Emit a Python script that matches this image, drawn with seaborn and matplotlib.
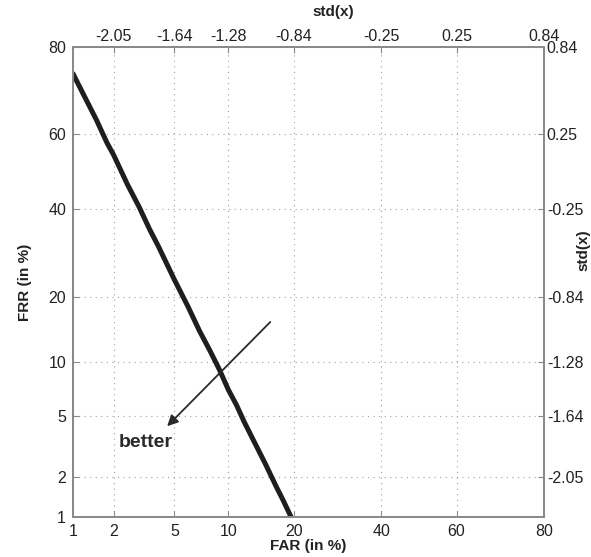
import numpy as np
import matplotlib
matplotlib.use("Agg")
import matplotlib.pyplot as plt
import seaborn as sns
from statistics import NormalDist

# ---- data ----
far = [1.0, 1.2, 1.5, 1.8, 2.0, 2.5, 3.0, 3.5, 4.0, 5.0, 6.0, 7.0, 8.0, 9.0, 10.0, 11.0, 12.0, 14.0, 15.0, 17.0, 18.0, 19.5]
frr = [74.6, 70.0, 63.8, 57.7, 54.6, 46.6, 40.6, 35.0, 30.7, 23.4, 18.3, 14.2, 11.4, 9.1, 7.1, 5.8, 4.6, 3.05, 2.5, 1.65, 1.36, 1.0]

pct_ticks = [1, 2, 5, 10, 20, 40, 60, 80]
std_ticks_pos = [2, 5, 10, 20, 40, 60, 80]
std_labels = ["-2.05", "-1.64", "-1.28", "-0.84", "-0.25", "0.25", "0.84"]

arrow_start = (16.2, 15.9)
arrow_end = (4.4, 4.2)
text_pos = (3.3, 3.4)

_nd = NormalDist()
_ppf = np.vectorize(lambda p: _nd.inv_cdf(min(max(p / 100.0, 1e-9), 1 - 1e-9)), otypes=[float])
_cdf = np.vectorize(lambda z: _nd.cdf(z) * 100.0, otypes=[float])

def fwd(v):
    return _ppf(np.asarray(v, dtype=float))

def inv(v):
    return _cdf(np.asarray(v, dtype=float))

sns.set_style("white")
plt.rcParams['font.family'] = ['Liberation Sans', 'DejaVu Sans']

TC = "#222222"
SC = "#8a8a8a"
FS = 11.5

fig = plt.figure(figsize=(5.91, 5.57), dpi=100)
ax = fig.add_axes([0.1235, 0.0718, 0.797, 0.8438])

sns.lineplot(x=far, y=frr, sort=False, estimator=None, color="#1e1e1e", lw=3.6, ax=ax)

for a_set in (ax,):
    a_set.set_xscale("function", functions=(fwd, inv))
    a_set.set_yscale("function", functions=(fwd, inv))
ax.set_xlim(1, 80)
ax.set_ylim(1, 80)
ax.set_xticks(pct_ticks)
ax.set_xticklabels([str(t) for t in pct_ticks])
ax.set_yticks(pct_ticks)
ax.set_yticklabels([str(t) for t in pct_ticks])
ax.minorticks_off()
ax.grid(True, linestyle=(0, (1, 4)), color="#a0a0a0", lw=0.8)
ax.tick_params(direction="in", length=4, color=SC, labelsize=FS, labelcolor=TC, pad=5)
for s in ax.spines.values():
    s.set_color(SC)
    s.set_linewidth(1.2)
ax.set_xlabel("FAR (in %)", fontweight="bold", fontsize=11, labelpad=0, color=TC)
ax.set_ylabel("FRR (in %)", fontweight="bold", fontsize=11, labelpad=12, color=TC)

# top axis
axt = ax.twiny()
axt.set_xscale("function", functions=(fwd, inv))
axt.set_xlim(1, 80)
axt.set_xticks(std_ticks_pos)
axt.set_xticklabels(std_labels)
axt.minorticks_off()
axt.tick_params(direction="in", length=4, color=SC, labelsize=FS, labelcolor=TC, pad=2)
axt.grid(False)

# right axis
axr = ax.twinx()
axr.set_yscale("function", functions=(fwd, inv))
axr.set_ylim(1, 80)
axr.set_yticks(std_ticks_pos)
axr.set_yticklabels(std_labels)
axr.minorticks_off()
axr.tick_params(direction="in", length=4, color=SC, labelsize=FS, labelcolor=TC, pad=2)
axr.grid(False)
for a2 in (axt, axr):
    for s in a2.spines.values():
        s.set_color(SC)
        s.set_linewidth(1.2)

fig.text(333 / 591, 1 - 12 / 557, "std(x)", fontweight="bold", fontsize=11, color=TC, ha="center", va="center")
fig.text(583 / 591, 1 - 250 / 557, "std(x)", fontweight="bold", fontsize=11, color=TC, ha="center", va="center",
         rotation=90)

ax.annotate("", xy=arrow_end, xytext=arrow_start,
            arrowprops=dict(arrowstyle="-|>", color="#2a2a2a", lw=1.3, mutation_scale=16))
ax.text(text_pos[0], text_pos[1], "better", fontsize=14, fontweight="bold", color="#2a2a2a",
        ha="center", va="center")

fig.savefig("out.png", dpi=100)
